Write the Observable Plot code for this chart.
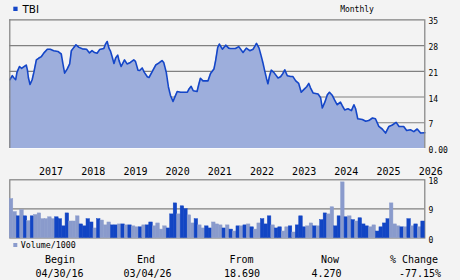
<!DOCTYPE html>
<html><head><meta charset="utf-8">
<script src="https://cdn.jsdelivr.net/npm/d3@7"></script>
<script src="https://cdn.jsdelivr.net/npm/@observablehq/plot@0.6"></script>
<style>
html,body{margin:0;padding:0;background:#f3f3f3;}
#root{position:relative;width:460px;height:280px;overflow:hidden;background:#f3f3f3;}
#root svg{position:absolute;left:0;}
</style></head><body><div id="root"></div>
<script>
const ticker = "TBI";
const period = "Monthly";
// price: [decimal year, close]
const price = [
[2016.33,18.69],[2016.39,19.8],[2016.42,19.3],[2016.47,18.7],[2016.50,20.7],[2016.56,22.3],[2016.61,21.8],[2016.66,22.2],[2016.72,22.7],[2016.75,21.2],
[2016.77,19.3],[2016.81,17.4],[2016.86,18.7],[2016.90,20.7],[2016.96,24.1],[2017.02,24.6],[2017.08,25.0],[2017.14,26.0],[2017.22,27.0],[2017.29,27.0],
[2017.37,26.6],[2017.47,26.4],[2017.55,25.7],[2017.59,23.0],[2017.63,20.5],[2017.69,21.6],[2017.75,23.0],[2017.79,26.6],[2017.85,27.5],[2017.90,28.2],
[2017.97,27.5],[2018.05,27.1],[2018.15,27.0],[2018.22,26.0],[2018.28,26.6],[2018.34,26.1],[2018.40,25.9],[2018.46,26.9],[2018.56,27.2],[2018.60,28.4],
[2018.64,29.1],[2018.68,27.3],[2018.72,26.4],[2018.76,24.8],[2018.80,23.1],[2018.84,24.6],[2018.89,25.4],[2018.92,23.9],[2018.97,22.3],[2019.05,24.1],
[2019.11,23.0],[2019.19,23.4],[2019.27,24.1],[2019.31,23.7],[2019.37,21.3],[2019.41,21.2],[2019.47,21.9],[2019.52,20.7],[2019.59,19.5],[2019.63,19.3],
[2019.71,21.0],[2019.79,22.7],[2019.86,23.2],[2019.94,23.9],[2019.98,23.4],[2020.04,20.7],[2020.09,16.8],[2020.14,14.4],[2020.20,12.8],[2020.24,13.9],
[2020.30,15.5],[2020.38,15.3],[2020.54,15.3],[2020.58,16.2],[2020.63,16.9],[2020.68,15.7],[2020.77,15.5],[2020.81,17.4],[2020.85,19.1],[2020.91,18.4],
[2021.03,18.4],[2021.09,20.4],[2021.17,21.6],[2021.21,23.9],[2021.26,27.5],[2021.30,28.4],[2021.37,27.0],[2021.45,28.1],[2021.52,27.3],[2021.56,27.2],
[2021.68,27.2],[2021.76,27.7],[2021.86,26.1],[2021.94,27.3],[2022.02,26.6],[2022.10,27.0],[2022.18,28.6],[2022.24,27.3],[2022.29,25.2],[2022.33,23.4],
[2022.37,21.3],[2022.42,18.9],[2022.45,17.6],[2022.49,19.8],[2022.53,21.3],[2022.59,20.7],[2022.69,19.2],[2022.75,19.5],[2022.80,20.3],[2022.85,21.4],
[2022.91,19.8],[2022.99,19.6],[2023.04,19.6],[2023.11,18.4],[2023.18,17.7],[2023.24,15.3],[2023.30,16.0],[2023.37,16.8],[2023.42,17.7],[2023.46,16.5],
[2023.52,15.1],[2023.64,14.8],[2023.70,13.8],[2023.74,11.0],[2023.80,12.6],[2023.86,14.6],[2023.91,15.3],[2023.98,14.4],[2024.03,13.2],[2024.09,11.9],
[2024.17,12.6],[2024.21,11.7],[2024.27,10.5],[2024.35,10.8],[2024.43,10.3],[2024.49,11.9],[2024.53,10.8],[2024.58,8.1],[2024.69,7.9],[2024.77,7.4],
[2024.84,7.6],[2024.93,8.3],[2025.00,8.1],[2025.08,6.0],[2025.16,5.3],[2025.24,4.2],[2025.32,6.0],[2025.40,6.4],[2025.49,7.1],[2025.56,6.0],
[2025.67,6.0],[2025.74,4.9],[2025.83,5.1],[2025.91,4.6],[2025.99,5.3],[2026.07,4.2],[2026.17,4.27]
];
// monthly volume (thousands), May 2016 .. Mar 2026
const volume = [
12.0,8.0,6.7,8.6,6.7,5.2,6.7,7.1,7.6,5.8,
5.8,6.4,5.8,6.4,5.8,3.6,7.6,5.1,5.1,6.7,
4.2,3.6,5.8,4.8,2.95,5.8,5.4,3.9,4.8,3.9,
3.9,4.2,4.2,3.9,3.9,3.6,3.3,3.3,3.9,3.9,
4.8,3.6,4.5,2.6,3.6,2.95,7.3,10.7,7.3,9.8,
8.9,7.0,4.5,5.8,3.9,2.95,3.6,2.95,4.8,4.2,
3.9,2.95,3.9,2.6,2.0,3.6,3.6,3.9,4.2,3.3,
2.6,4.5,5.8,4.2,6.7,3.9,2.95,3.3,2.0,3.3,
3.6,1.7,3.9,6.7,3.3,3.6,4.5,3.6,3.6,5.5,
7.6,7.3,9.5,3.6,6.7,17.2,6.4,6.7,5.5,5.1,
6.1,4.2,3.6,3.3,3.9,2.0,3.3,4.5,5.8,10.7,
4.2,3.6,3.3,3.3,5.8,3.6,4.2,3.3,5.1
];
const volTone = (
"LLDLDLDLLL"+"LLLDDDDLLL"+"DDDDLDLLLD"+"DLDLDLLDLD"+"DLLLLDDDLD"+
"DLLDLLDDLL"+"LDLDLDLDLD"+"LLDDDLDDLL"+"DLDDDLLDLD"+"DLLDDLDLDL"+
"DDDLLDDDDL"+"LLDLDLDLD").split("");
const yearTicks = [2017,2018,2019,2020,2021,2022,2023,2024,2025,2026];
const priceTicks = [0,7,14,21,28,35];
const priceGrid = [7,14,21,28];
const volTicks = [0,9,18];
const footLabels = ["Begin","End","From","Now","% Change"];
const footValues = ["04/30/16","03/04/26","18.690","4.270","-77.15%"];

// styling / layout
const W = 460, mL = 9.3, mR = 35.7;
const xDomain = [2016.33, 2026.17];
const gridC = "#808080", areaC = "#9daedc", lineC = "#1446c8";
const darkC = "#1245c4", lightC = "#8a9bcc";
const mono = "'DejaVu Sans Mono', monospace";
const baseStyle = {background:"transparent", color:"#000", fontFamily: mono, fontSize:"8px", overflow:"visible"};

const priceData = price.map(([t,v]) => ({t, v}));
const months = d3.utcMonths(new Date(Date.UTC(2016,4,1)), new Date(Date.UTC(2026,3,1))).map(d3.utcFormat("%Y-%m"));
const volData = volume.map((v,i) => ({m: months[i], v, tone: volTone[i]}));

const root = document.getElementById("root");

const pricePlot = Plot.plot({
  width: W, height: 180,
  marginLeft: mL, marginRight: mR, marginTop: 19.3, marginBottom: 32,
  x: {type: "linear", domain: xDomain, label: null},
  y: {domain: [0, 35], label: null},
  style: baseStyle,
  marks: [
    Plot.ruleY(priceGrid, {stroke: gridC, strokeWidth: 1.2}),
    Plot.areaY(priceData, {x: "t", y: "v", fill: areaC}),
    Plot.lineY(priceData, {x: "t", y: "v", stroke: lineC, strokeWidth: 1.6}),
    Plot.ruleY([0], {stroke: "#fbfbfb", strokeWidth: 1.2}),
    Plot.ruleY([35], {stroke: gridC, strokeWidth: 1.2}),
    Plot.ruleX(xDomain, {stroke: gridC, strokeWidth: 1.2}),
    Plot.axisY(priceTicks, {anchor: "right", label: null, tickSize: 0, tickPadding: 3.7, dy: 2, fontSize: 8,
      tickFormat: d => d === 0 ? "0.00" : String(d)}),
    Plot.axisX(yearTicks, {anchor: "bottom", label: null, tickSize: 0, tickPadding: 19, textAnchor: "start", dx: 1,
      fontSize: 10, tickFormat: d => String(d)})
  ]
});
pricePlot.style.top = "0px";
root.appendChild(pricePlot);

const volPlot = Plot.plot({
  width: W, height: 70,
  marginLeft: mL, marginRight: mR, marginTop: 7.3, marginBottom: 4.5,
  x: {type: "band", domain: months, padding: 0, axis: null},
  y: {domain: [0, 18], label: null},
  color: {domain: ["D","L"], range: [darkC, lightC]},
  style: baseStyle,
  marks: [
    Plot.frame({stroke: gridC, strokeWidth: 1.2}),
    Plot.ruleY([9], {stroke: gridC, strokeWidth: 1.2}),
    Plot.barY(volData, {x: "m", y: "v", fill: "tone", stroke: "tone", strokeWidth: 0.5, inset: 0}),
    Plot.axisY(volTicks, {anchor: "right", label: null, tickSize: 0, tickPadding: 3.7, dy: 2, fontSize: 8})
  ]
});
volPlot.style.top = "172px";
root.appendChild(volPlot);

// header / legend / footer text
const svg = d3.create("svg").attr("width", W).attr("height", 280)
  .style("top", "0px").style("pointer-events", "none").style("font-family", mono);
svg.append("rect").attr("x", 13.3).attr("y", 6.7).attr("width", 4.3).attr("height", 4.3).attr("fill", lineC);
svg.append("text").attr("x", 22.5).attr("y", 12.7).attr("font-family", "'DejaVu Sans', sans-serif")
  .attr("font-size", 10.4).text(ticker);
svg.append("text").attr("x", 357).attr("y", 11.8).attr("text-anchor", "middle").attr("font-size", 8).text(period);
svg.append("rect").attr("x", 13.3).attr("y", 243).attr("width", 4).attr("height", 4).attr("fill", lightC);
svg.append("text").attr("x", 20.7).attr("y", 248).attr("font-size", 8.3).text("Volume/1000");
const labelX = [60, 146, 241.5, 330, 414];
const valueX = [59.5, 147.5, 242, 326.5, 420];
footLabels.forEach((s, i) => svg.append("text").attr("x", labelX[i]).attr("y", 262.8)
  .attr("text-anchor", "middle").attr("font-size", 10).text(s));
footValues.forEach((s, i) => svg.append("text").attr("x", valueX[i]).attr("y", 277)
  .attr("text-anchor", "middle").attr("font-size", 10).text(s));
root.appendChild(svg.node());
</script>
</body></html>
